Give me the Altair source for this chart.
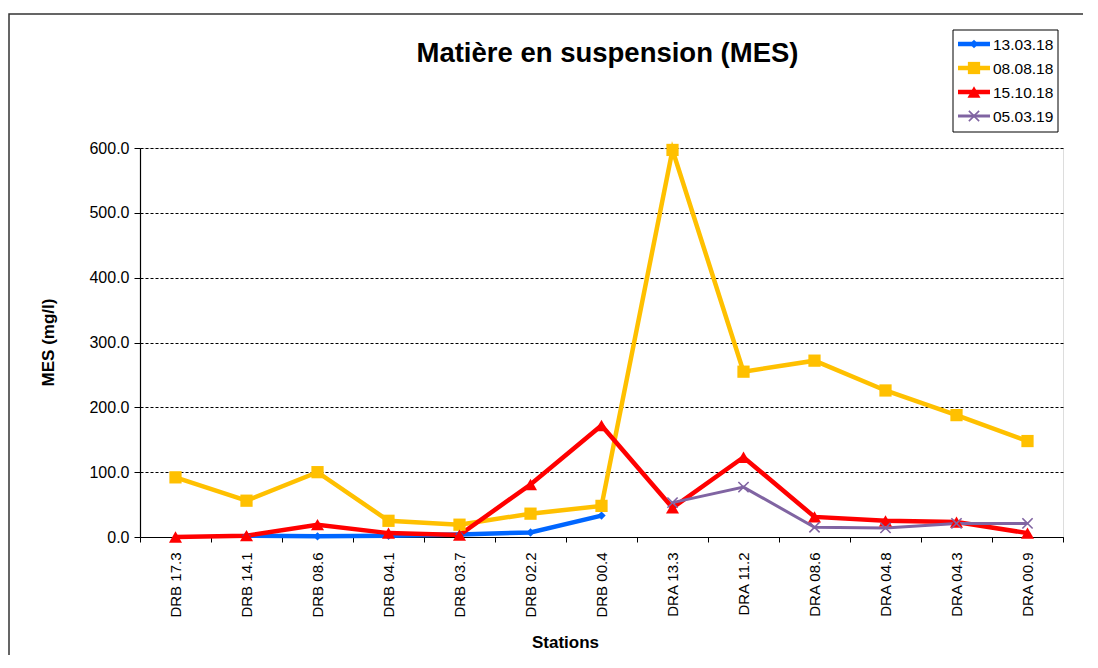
import altair as alt
import pandas as pd

stations = ["DRB 17.3", "DRB 14.1", "DRB 08.6", "DRB 04.1", "DRB 03.7", "DRB 02.2",
            "DRB 00.4", "DRA 13.3", "DRA 11.2", "DRA 08.6", "DRA 04.8", "DRA 04.3", "DRA 00.9"]
series_names = ["13.03.18", "08.08.18", "15.10.18", "05.03.19"]

mes_130318 = [None, 2, 1, 2, 4, 7, 33, None, None, None, None, None, None]
mes_080818 = [92, 56, 100, 25, 19, 36, 48, 597, 255, 272, 226, 188, 148]
mes_151018 = [0, 2, 19, 6, 3, 81, 172, 45, 123, 31, 25, 23, 6]
mes_050319 = [None, None, None, None, None, None, None, 53, 77, 15, 14, 21, 21]

y_ticks = [0, 100, 200, 300, 400, 500, 600]
colors = ["#0066FF", "#FFC000", "#FF0000", "#8064A2"]
line_widths = [4.5, 4.5, 4.5, 3]
marker_sizes = [70, 150, 170, 130]
x_path = ("M -1 -0.8 L -0.2 0 L -1 0.8 L -0.8 1 L 0 0.2 L 0.8 1 L 1 0.8 "
          "L 0.2 0 L 1 -0.8 L 0.8 -1 L 0 -0.2 L -0.8 -1 Z")
shapes = ["diamond", "square", "triangle-up", x_path]

rows = []
for name, vals in zip(series_names, [mes_130318, mes_080818, mes_151018, mes_050319]):
    for st, v in zip(stations, vals):
        if v is not None:
            rows.append({"Station": st, "Serie": name, "MES": v})
df = pd.DataFrame(rows)

W, H = 923, 389
FONT = "Liberation Sans"

x_enc = alt.X(
    "Station:N",
    scale=alt.Scale(type="band", domain=stations, paddingInner=0, paddingOuter=0),
    bandPosition=0.5,
    axis=alt.Axis(
        title="Stations", labelAngle=-90, labelFontSize=15, labelFont=FONT,
        labelColor="#000", labelPadding=10, tickBand="extent", ticks=True,
        tickSize=5, tickColor="#000", domainColor="#000", domainWidth=1.2,
        grid=False, titleFont=FONT, titleFontSize=17, titleFontWeight="bold",
        titleX=425, titleY=110, titleAlign="center", titleBaseline="alphabetic",
        labelOverlap=False,
    ),
)
y_enc = alt.Y(
    "MES:Q",
    scale=alt.Scale(domain=[0, 600], nice=False),
    axis=alt.Axis(
        title="MES (mg/l)", values=y_ticks, format=".1f", labelFontSize=16,
        labelFont=FONT, labelColor="#000", tickSize=6, tickColor="#000",
        domainColor="#000", domainWidth=1.2, labelPadding=5,
        grid=True, gridColor="#000", gridDash=[3, 2], gridWidth=1,
        titleFont=FONT, titleFontSize=17, titleFontWeight="bold",
        titleX=-87, titleY=194, titleAngle=-90, titleAlign="center",
        titleBaseline="alphabetic",
    ),
)

layers = []
for name, lw, col in zip(series_names, line_widths, colors):
    layers.append(
        alt.Chart(df).transform_filter(alt.datum.Serie == name)
        .mark_line(strokeWidth=lw, color=col).encode(x=x_enc, y=y_enc)
    )
for name, ms, col, shp in zip(series_names, marker_sizes, colors, shapes):
    layers.append(
        alt.Chart(df).transform_filter(alt.datum.Serie == name)
        .mark_point(filled=True, opacity=1, size=ms, color=col, shape=shp)
        .encode(x=x_enc, y=y_enc)
    )

# Custom legend (line + marker like the original)
one = alt.Data(values=[{}])
legend_layers = [
    alt.Chart(one).mark_rect(fill="#fff", stroke="#000", strokeWidth=1).encode(
        x=alt.value(813), x2=alt.value(918), y=alt.value(-118), y2=alt.value(-16))
]
for i, (name, lw, ms, col, shp) in enumerate(zip(series_names, line_widths, marker_sizes, colors, shapes)):
    yy = -104 + 24 * i
    legend_layers.append(
        alt.Chart(one).mark_rule(strokeWidth=lw, color=col).encode(
            x=alt.value(818), x2=alt.value(850), y=alt.value(yy)))
    legend_layers.append(
        alt.Chart(one).mark_point(filled=True, opacity=1, size=ms, color=col, shape=shp).encode(
            x=alt.value(834), y=alt.value(yy)))
    legend_layers.append(
        alt.Chart(one).mark_text(text=name, font=FONT, fontSize=15.5, color="#000",
                                 align="left", baseline="middle").encode(
            x=alt.value(853), y=alt.value(yy + 1)))

border = alt.Chart(one).mark_rect(
    fill="transparent", stroke="#333", strokeWidth=1.5
).encode(
    x=alt.value(-131), x2=alt.value(1000), y=alt.value(-134), y2=alt.value(560)
)

chart = alt.layer(border, *layers, *legend_layers).properties(
    width=W, height=H,
    title=alt.TitleParams("Matière en suspension (MES)", font=FONT, fontSize=27.5,
                          fontWeight="bold", color="#000", anchor="middle",
                          baseline="alphabetic", dx=6, dy=80),
    padding={"left": 132, "top": 140, "right": 20, "bottom": 118},
    autosize=alt.AutoSizeParams(type="none"),
).configure_view(strokeWidth=0).configure(background="#fff")

chart.save("out.html", embed_options={"renderer": "svg", "actions": False})
